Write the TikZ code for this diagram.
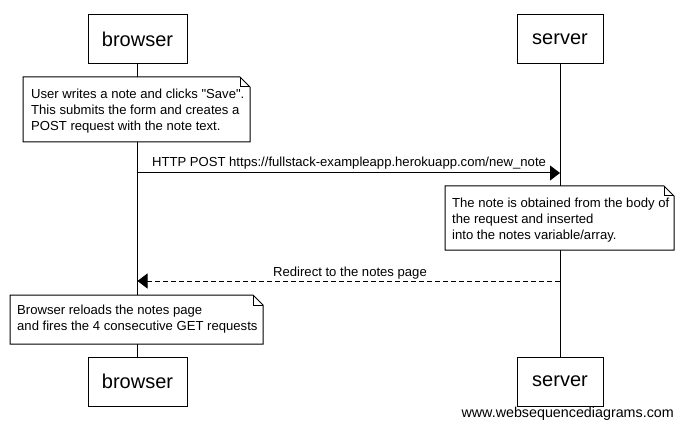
\documentclass[tikz,border=0pt]{standalone}
\usepackage{fontspec}
\setmainfont{Liberation Sans}
\usetikzlibrary{arrows.meta}
\begin{document}
\begin{tikzpicture}[x=1pt,y=-1pt,
  actor/.style={draw,line width=1pt,minimum width=99pt,minimum height=49pt,inner sep=0pt,font=\fontsize{20}{24}\selectfont},
  notetext/.style={anchor=north west,align=left,inner sep=0pt,font=\fontsize{13.1}{16}\selectfont},
  notebox/.style={line width=1pt,fill=white},
  msg/.style={line width=1pt,-{Triangle[length=10pt,width=15pt]}},
  msglabel/.style={font=\fontsize{13.1}{16}\selectfont,inner sep=0pt}]
\useasboundingbox (0,0) rectangle (684,430);
% participants
\node[actor] (b1) at (137.5,39.5) {browser};
\node[actor,minimum width=86pt] (s1) at (560,39.5) {server};
\node[actor] (b2) at (137.5,381.5) {browser};
\node[actor,minimum width=86pt] (s2) at (560,381.5) {server};
\draw[line width=1pt] (b1.south) -- (b2.north);
\draw[line width=1pt] (s1.south) -- (s2.north);
% note 1
\coordinate (n1a) at (23,77);
\coordinate (n1b) at (250,142);
\filldraw[notebox] (n1a) -- (240,77) -- (250,87) -- (n1b) -- (23,142) -- cycle;
\draw[line width=1pt] (240,77) -- (240,87) -- (250,87);
\node[notetext] (t1) at (31,89) {User writes a note and clicks \textquotedbl Save\textquotedbl.\\This submits the form and creates a\\POST request with the note text.};
% message 1
\coordinate (m1s) at (137.5,173);
\coordinate (m1e) at (560,173);
\draw[msg] (m1s) -- (m1e);
\node[msglabel] (l1) at (349,163) {HTTP POST https://fullstack-exampleapp.herokuapp.com/new\_note};
% note 2
\filldraw[notebox] (445,186) -- (664,186) -- (674,196) -- (674,250) -- (445,250) -- cycle;
\draw[line width=1pt] (664,186) -- (664,196) -- (674,196);
\node[notetext] (t2) at (452,198) {The note is obtained from the body of\\the request and inserted\\into the notes variable/array.};
% message 2
\coordinate (m2s) at (560,281);
\coordinate (m2e) at (137.5,281);
\draw[msg,dashed,dash pattern=on 5pt off 3pt] (m2s) -- (m2e);
\node[msglabel] (l2) at (350,273) {Redirect to the notes page};
% note 3
\filldraw[notebox] (10,295) -- (253,295) -- (263,305) -- (263,344) -- (10,344) -- cycle;
\draw[line width=1pt] (253,295) -- (253,305) -- (263,305);
\node[notetext] (t3) at (17,305) {Browser reloads the notes page\\and fires the 4 consecutive GET requests};
% footer
\node[msglabel,anchor=east,font=\fontsize{14.3}{16}\selectfont] (f) at (674,414) {www.websequencediagrams.com};
\end{tikzpicture}
\end{document}
